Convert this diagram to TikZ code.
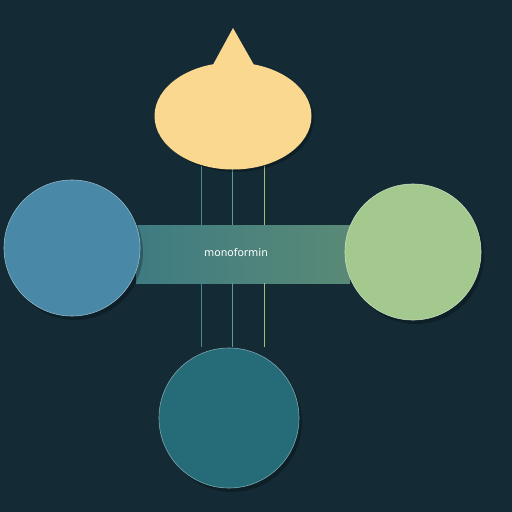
\documentclass[tikz,border=0pt]{standalone}
\usepackage{fontspec}
\setmainfont{DejaVu Sans}
\usetikzlibrary{shapes.geometric}
\begin{document}
\begin{tikzpicture}[x=1pt,y=-1pt,
  conn/.style={line width=1pt},
  blob/.style={draw=#1!60!white, line width=0.6pt}]
\definecolor{bg}{HTML}{142B35}
\definecolor{cyel}{HTML}{FBD88F}
\definecolor{cblue}{HTML}{4A88A8}
\definecolor{cgreen}{HTML}{A3C98F}
\definecolor{cteal}{HTML}{256B78}
\definecolor{bandL}{HTML}{3E7B82}
\definecolor{bandR}{HTML}{5A8A76}
\definecolor{lnA}{HTML}{3F8A95}
\definecolor{lnB}{HTML}{5A9C98}
\definecolor{lnC}{HTML}{A0BF80}
\fill[bg] (0,0) rectangle (512,512);
\useasboundingbox (0,0) rectangle (512,512);
% band
\node[shade, left color=bandL, right color=bandR, minimum width=214pt, minimum height=58pt, inner sep=0pt] (band) at (243,254) {};
% vertical connectors
\coordinate (t1) at (201,166); \coordinate (t2) at (232,168); \coordinate (t3) at (264,166);
\coordinate (b1) at (201,347); \coordinate (b2) at (232,347); \coordinate (b3) at (264,347);
\draw[conn, lnA] (t1) -- (t1 |- band.north);
\draw[conn, lnB] (t2) -- (t2 |- band.north);
\draw[conn, lnC] (t3) -- (t3 |- band.north);
\draw[conn, lnA] (b1 |- band.south) -- (b1);
\draw[conn, lnB] (b2 |- band.south) -- (b2);
\draw[conn, lnC] (b3 |- band.south) -- (b3);
% shadows
\fill[black, opacity=0.25] (75,252) circle (68);
\fill[black, opacity=0.25] (416,256) circle (68);
\fill[black, opacity=0.25] (232,422) circle (70);
\fill[black, opacity=0.25] (236,119) ellipse (78 and 53);
% top teardrop
\node[ellipse, fill=cyel, minimum width=157pt, minimum height=107pt, inner sep=0pt] (top) at (233,116) {};
\fill[cyel] (209,72) -- (233,28) -- (258,72) -- cycle;
% circles
\node[circle, fill=cblue, blob=cblue, minimum size=136pt, inner sep=0pt] (left) at (72,248) {};
\node[circle, fill=cgreen, blob=cgreen, minimum size=136pt, inner sep=0pt] (right) at (413,252) {};
\node[circle, fill=cteal, blob=cteal, minimum size=140pt, inner sep=0pt] (bottom) at (229,418) {};
% label
\node[text=white, font=\fontsize{10.5}{12}\selectfont] (lab) at (236,253) {monoformin};
\end{tikzpicture}
\end{document}
